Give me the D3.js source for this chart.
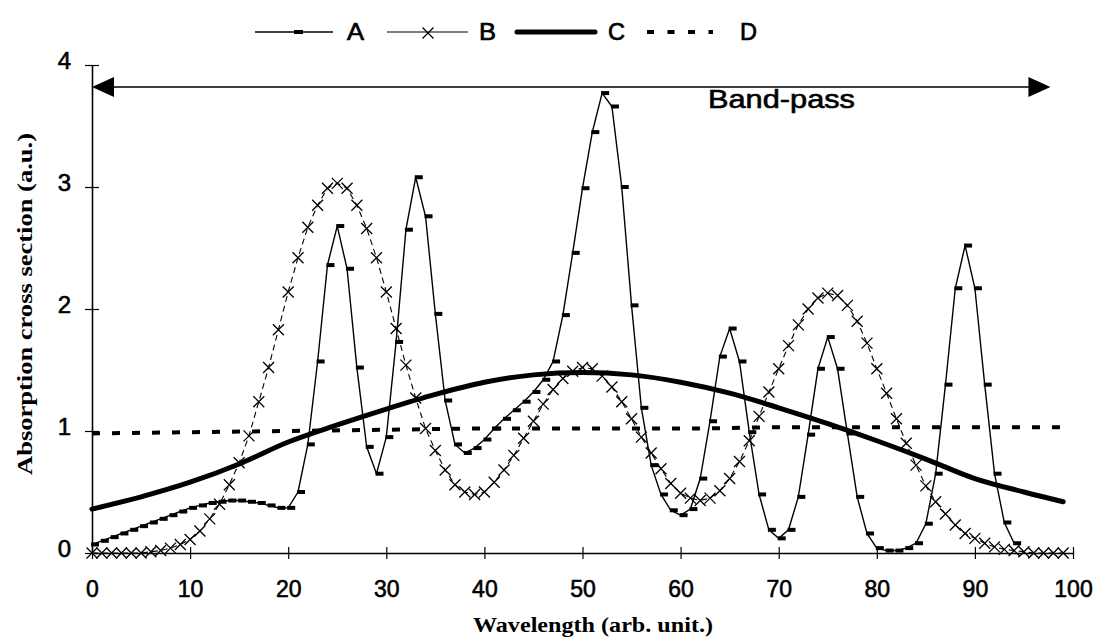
<!DOCTYPE html>
<html>
<head>
<meta charset="utf-8">
<script src="https://cdn.jsdelivr.net/npm/d3@7"></script>
<style>
  html, body { margin: 0; padding: 0; background: #fff; }
  svg { display: block; }
</style>
</head>
<body>
<svg id="chart" width="1096" height="640"></svg>
<script>
// ---------------- data ----------------
const xTicks = [0, 10, 20, 30, 40, 50, 60, 70, 80, 90, 100];
const yTicks = [0, 1, 2, 3, 4];

// Series A: sharp absorption lines (x = 0..94, step 1)
const seriesA = [
  0.07, 0.10, 0.13, 0.16, 0.19, 0.22, 0.25, 0.28, 0.31, 0.34,
  0.37, 0.39, 0.41, 0.42, 0.43, 0.43, 0.42, 0.41, 0.39, 0.37,
  0.37, 0.50, 0.89, 1.57, 2.36, 2.68, 2.33, 1.52, 0.87, 0.65,
  0.95, 1.73, 2.65, 3.08, 2.76, 1.96, 1.25, 0.89, 0.82, 0.86,
  0.93, 1.02, 1.10, 1.17, 1.24, 1.32, 1.42, 1.57, 1.95, 2.46,
  2.99, 3.45, 3.77, 3.66, 3.00, 2.03, 1.19, 0.72, 0.48, 0.35,
  0.31, 0.36, 0.61, 1.08, 1.61, 1.84, 1.57, 0.99, 0.48, 0.19,
  0.12, 0.19, 0.46, 0.97, 1.51, 1.77, 1.51, 0.98, 0.46, 0.16,
  0.04, 0.02, 0.02, 0.04, 0.08, 0.24, 0.65, 1.38, 2.17, 2.52,
  2.17, 1.38, 0.65, 0.25, 0.08
];

// Series B: broad bands (x = 0..99, step 1)
const seriesB = [
  0.00, 0.00, 0.00, 0.00, 0.00, 0.00, 0.01, 0.02, 0.04, 0.07,
  0.11, 0.18, 0.28, 0.40, 0.56, 0.74, 0.96, 1.24, 1.52, 1.83,
  2.14, 2.42, 2.67, 2.85, 2.99, 3.03, 2.99, 2.85, 2.66, 2.42,
  2.14, 1.84, 1.54, 1.27, 1.02, 0.84, 0.68, 0.56, 0.50, 0.48,
  0.50, 0.58, 0.68, 0.80, 0.94, 1.08, 1.22, 1.34, 1.43, 1.49,
  1.52, 1.51, 1.45, 1.36, 1.24, 1.10, 0.95, 0.82, 0.69, 0.57,
  0.49, 0.45, 0.43, 0.45, 0.51, 0.61, 0.75, 0.92, 1.12, 1.32,
  1.51, 1.70, 1.87, 2.00, 2.09, 2.13, 2.11, 2.03, 1.90, 1.72,
  1.51, 1.31, 1.10, 0.90, 0.72, 0.55, 0.42, 0.32, 0.23, 0.16,
  0.12, 0.08, 0.05, 0.03, 0.02, 0.01, 0.00, 0.00, 0.00, 0.00
];

// Series C: smooth envelope
const xC = [0, 5, 10, 15, 20, 25, 30, 35, 40, 45, 50, 55, 60, 65, 70, 75, 80, 85, 90, 95, 99];
const seriesC = [0.36, 0.46, 0.58, 0.73, 0.91, 1.05, 1.18, 1.30, 1.40, 1.46, 1.48,
                 1.46, 1.40, 1.31, 1.19, 1.06, 0.92, 0.77, 0.61, 0.50, 0.42];

// Series D: flat reference
const xD = [0, 10, 20, 30, 40, 50, 60, 70, 80, 90, 99];
const seriesD = [0.98, 0.99, 1.00, 1.01, 1.02, 1.02, 1.02, 1.03, 1.03, 1.03, 1.03];

const legendLabels = ["A", "B", "C", "D"];
const bandPass = [0, 97.7];
const bandPassLevel = 3.82;
const bandPassLabel = "Band-pass";
const xTitle = "Wavelength (arb. unit.)";
const yTitle = "Absorption cross section (a.u.)";

// ---------------- drawing ----------------
const svg = d3.select("#chart");
const x = d3.scaleLinear().domain([0, 100]).range([92, 1073]);
const y = d3.scaleLinear().domain([0, 4]).range([553, 65]);

const sans = "'Liberation Sans', Arial, sans-serif";
const serif = "'Liberation Serif', 'Times New Roman', serif";

// axes
const xAxis = d3.axisBottom(x).tickValues(xTicks).tickFormat(d3.format("d"))
  .tickSizeInner(6).tickSizeOuter(0).tickPadding(22);
const gx = svg.append("g").attr("transform", `translate(0,${y(0)})`).call(xAxis);
gx.select(".domain").attr("stroke", "#000").attr("stroke-width", 1.6);
gx.selectAll(".tick line").attr("y1", -6).attr("y2", 6).attr("stroke-width", 1.2);
gx.selectAll(".tick text").attr("font-family", sans).attr("font-size", 23)
  .attr("fill", "#000").attr("stroke", "#000").attr("stroke-width", 0.6);

const yAxis = d3.axisLeft(y).tickValues(yTicks).tickFormat(d3.format("d"))
  .tickSizeInner(7).tickSizeOuter(0).tickPadding(14);
const gy = svg.append("g").attr("transform", `translate(${x(0)},0)`).call(yAxis);
gy.select(".domain").attr("stroke", "#000").attr("stroke-width", 1.6);
gy.selectAll(".tick line").attr("x1", -7).attr("x2", 7).attr("stroke-width", 1.2);
gy.selectAll(".tick text").attr("font-family", sans).attr("font-size", 24)
  .attr("dy", "0.14em")
  .attr("fill", "#000").attr("stroke", "#000").attr("stroke-width", 0.6);

// axis titles
svg.append("text")
  .attr("x", 593).attr("y", 632)
  .attr("text-anchor", "middle")
  .attr("font-family", serif).attr("font-weight", "bold").attr("font-size", 22)
  .attr("textLength", 240).attr("lengthAdjust", "spacingAndGlyphs")
  .text(xTitle);

svg.append("text")
  .attr("transform", "translate(32,304) rotate(-90)")
  .attr("text-anchor", "middle")
  .attr("font-family", serif).attr("font-weight", "bold").attr("font-size", 22)
  .attr("textLength", 342).attr("lengthAdjust", "spacingAndGlyphs")
  .text(yTitle);

// series C (thick smooth)
const lineC = d3.line().x((d, i) => x(xC[i])).y(d => y(d)).curve(d3.curveMonotoneX);
svg.append("path").datum(seriesC)
  .attr("d", lineC).attr("fill", "none").attr("stroke", "#000")
  .attr("stroke-width", 5).attr("stroke-linecap", "round");

// series D (dashed)
const lineD = d3.line().x((d, i) => x(xD[i])).y(d => y(d)).curve(d3.curveMonotoneX);
svg.append("path").datum(seriesD)
  .attr("d", lineD).attr("fill", "none").attr("stroke", "#000")
  .attr("stroke-width", 4).attr("stroke-dasharray", "8,12");

// series B (thin dashed + x markers)
const lineB = d3.line().x((d, i) => x(i)).y(d => y(d));
svg.append("path").datum(seriesB)
  .attr("d", lineB).attr("fill", "none").attr("stroke", "#000")
  .attr("stroke-width", 1.1).attr("stroke-dasharray", "6,4");
const crossSize = 5.5;
const crossPath = `M${-crossSize},${-crossSize}L${crossSize},${crossSize}M${-crossSize},${crossSize}L${crossSize},${-crossSize}`;
svg.append("g").selectAll("path").data(seriesB).join("path")
  .attr("transform", (d, i) => `translate(${x(i)},${y(d)})`)
  .attr("d", crossPath).attr("fill", "none").attr("stroke", "#000").attr("stroke-width", 1.3);

// series A (thin solid + dash markers)
const lineA = d3.line().x((d, i) => x(i)).y(d => y(d));
svg.append("path").datum(seriesA)
  .attr("d", lineA).attr("fill", "none").attr("stroke", "#000").attr("stroke-width", 1.4);
svg.append("g").selectAll("rect").data(seriesA).join("rect")
  .attr("x", (d, i) => x(i) - 1).attr("y", d => y(d) - 2)
  .attr("width", 8).attr("height", 4).attr("fill", "#000");

// band-pass arrow
const by = y(bandPassLevel);
const bx0 = x(bandPass[0]), bx1 = x(bandPass[1]);
svg.append("line").attr("x1", bx0 + 10).attr("x2", bx1 - 10).attr("y1", by).attr("y2", by)
  .attr("stroke", "#000").attr("stroke-width", 1.6);
svg.append("path").attr("d", `M${bx0},${by}L${bx0 + 22},${by - 10}L${bx0 + 22},${by + 10}Z`).attr("fill", "#000");
svg.append("path").attr("d", `M${bx1},${by}L${bx1 - 22},${by - 10}L${bx1 - 22},${by + 10}Z`).attr("fill", "#000");
svg.append("text").attr("x", 708).attr("y", 108)
  .attr("font-family", sans).attr("font-size", 25)
  .attr("textLength", 147).attr("lengthAdjust", "spacingAndGlyphs")
  .attr("stroke", "#000").attr("stroke-width", 0.6)
  .text(bandPassLabel);

// legend
const ly = 32;
const leg = svg.append("g");
// A
leg.append("line").attr("x1", 255).attr("x2", 333).attr("y1", ly).attr("y2", ly).attr("stroke", "#000").attr("stroke-width", 1.4);
leg.append("rect").attr("x", 294).attr("y", ly - 2).attr("width", 9).attr("height", 4).attr("fill", "#000");
// B
leg.append("line").attr("x1", 387).attr("x2", 468).attr("y1", ly).attr("y2", ly).attr("stroke", "#000").attr("stroke-width", 1.1);
leg.append("path").attr("transform", `translate(428,${ly + 1})`).attr("d", crossPath).attr("fill", "none").attr("stroke", "#000").attr("stroke-width", 1.3);
// C
leg.append("line").attr("x1", 517).attr("x2", 595).attr("y1", ly).attr("y2", ly).attr("stroke", "#000").attr("stroke-width", 5).attr("stroke-linecap", "round");
// D
leg.append("line").attr("x1", 647).attr("x2", 713).attr("y1", ly).attr("y2", ly).attr("stroke", "#000").attr("stroke-width", 4).attr("stroke-dasharray", "7,13.5");

const legTextX = [347, 479, 608, 740];
leg.selectAll("text").data(legendLabels).join("text")
  .attr("x", (d, i) => legTextX[i]).attr("y", ly + 8)
  .attr("font-family", sans).attr("font-size", 23)
  .attr("textLength", 17).attr("lengthAdjust", "spacingAndGlyphs")
  .attr("stroke", "#000").attr("stroke-width", 0.7)
  .text(d => d);
</script>
</body>
</html>
